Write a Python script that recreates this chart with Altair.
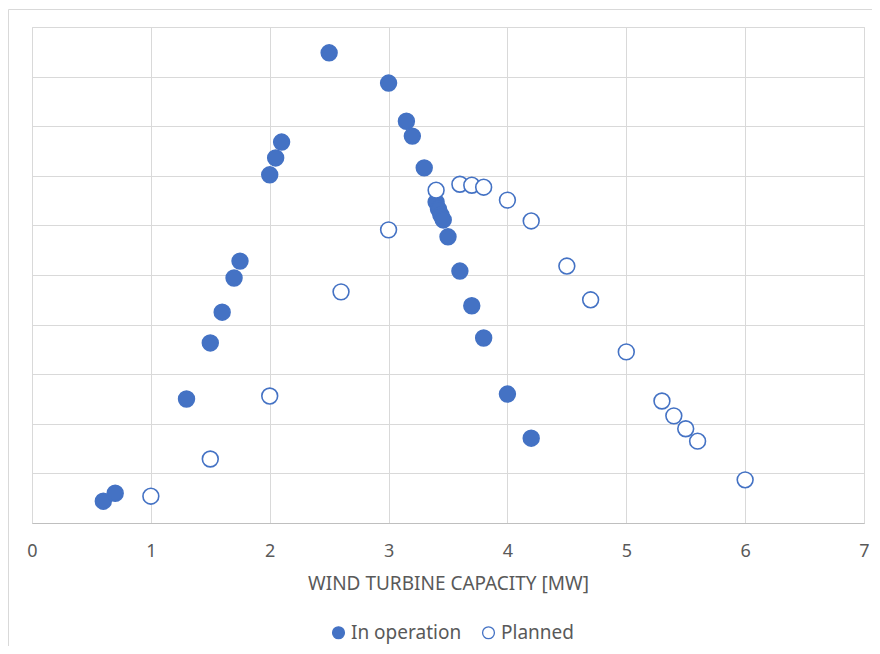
import altair as alt
import pandas as pd

# In operation (filled)
op_x = [0.6, 0.7, 1.3, 1.5, 1.6, 1.7, 1.75, 2.0, 2.05, 2.1, 2.5, 3.0, 3.15, 3.2, 3.3,
        3.4, 3.42, 3.44, 3.46, 3.5, 3.6, 3.7, 3.8, 4.0, 4.2]
op_y = [4.4, 6.0, 25.0, 36.3, 42.5, 49.4, 52.8, 70.2, 73.6, 76.8, 94.8, 88.7, 81.0, 78.0, 71.6,
        64.7, 63.3, 62.1, 61.1, 57.7, 50.8, 43.8, 37.3, 26.0, 17.1]

# Planned (open)
pl_x = [1.0, 1.5, 2.0, 2.6, 3.0, 3.4, 3.6, 3.7, 3.8, 4.0, 4.2, 4.5, 4.7, 5.0, 5.3, 5.4, 5.5, 5.6, 6.0]
pl_y = [5.4, 12.9, 25.6, 46.6, 59.1, 67.1, 68.3, 68.1, 67.7, 65.1, 60.9, 51.8, 45.0, 34.5,
        24.6, 21.6, 19.0, 16.5, 8.7]

statuses = ["In operation", "Planned"]
x_ticks = [0, 1, 2, 3, 4, 5, 6, 7]
y_ticks = [0, 10, 20, 30, 40, 50, 60, 70, 80, 90, 100]

df = pd.DataFrame({
    "cap": op_x + pl_x,
    "val": op_y + pl_y,
    "status": [statuses[0]] * len(op_x) + [statuses[1]] * len(pl_x),
})

BLUE = "#4472C4"
GRID = "#d9d9d9"
TEXT = "#595959"
FONT = "Noto Sans"

frame = alt.Chart(pd.DataFrame({"a": [0]})).mark_rect(
    fill="transparent", stroke=GRID, strokeWidth=1
).encode(
    x=alt.value(-23.5), x2=alt.value(1000), y=alt.value(-17.5), y2=alt.value(1000)
)

points = alt.Chart(df).mark_point(
    shape="circle", filled=True, size=250, stroke=BLUE, strokeWidth=1.6, opacity=1
).encode(
    x=alt.X("cap:Q", title="WIND TURBINE CAPACITY [MW]",
            scale=alt.Scale(domain=[0, 7], nice=False, zero=False),
            axis=alt.Axis(values=x_ticks, format="d", grid=True, gridColor=GRID,
                          domainColor="#bfbfbf", ticks=False, labelPadding=19,
                          labelFlush=False,
                          labelFontSize=18, labelColor=TEXT, labelFont=FONT,
                          titleFontSize=19, titleColor=TEXT, titleFont=FONT,
                          titleFontWeight="normal", titlePadding=14)),
    y=alt.Y("val:Q", title=None,
            scale=alt.Scale(domain=[0, 100], nice=False),
            axis=alt.Axis(values=y_ticks, labels=False, ticks=False, domain=False,
                          grid=True, gridColor=GRID)),
    fill=alt.Fill("status:N", scale=alt.Scale(domain=statuses, range=[BLUE, "white"]),
                  legend=alt.Legend(title=None, orient="none", direction="horizontal",
                                    legendX=297, legendY=596, padding=0,
                                    symbolType="circle", symbolSize=140,
                                    symbolStrokeColor=BLUE, symbolStrokeWidth=1.3,
                                    labelFontSize=19, labelColor=TEXT, labelFont=FONT,
                                    labelOffset=3, columnPadding=17)),
)

chart = alt.layer(frame, points).properties(
    width=832, height=496,
    autosize=alt.AutoSizeParams(type="none"),
    padding={"left": 24, "top": 19, "right": 8, "bottom": 123},
).configure_view(stroke=GRID).configure(background="white")

chart.save("out.html", embed_options={"renderer": "svg", "actions": False})
